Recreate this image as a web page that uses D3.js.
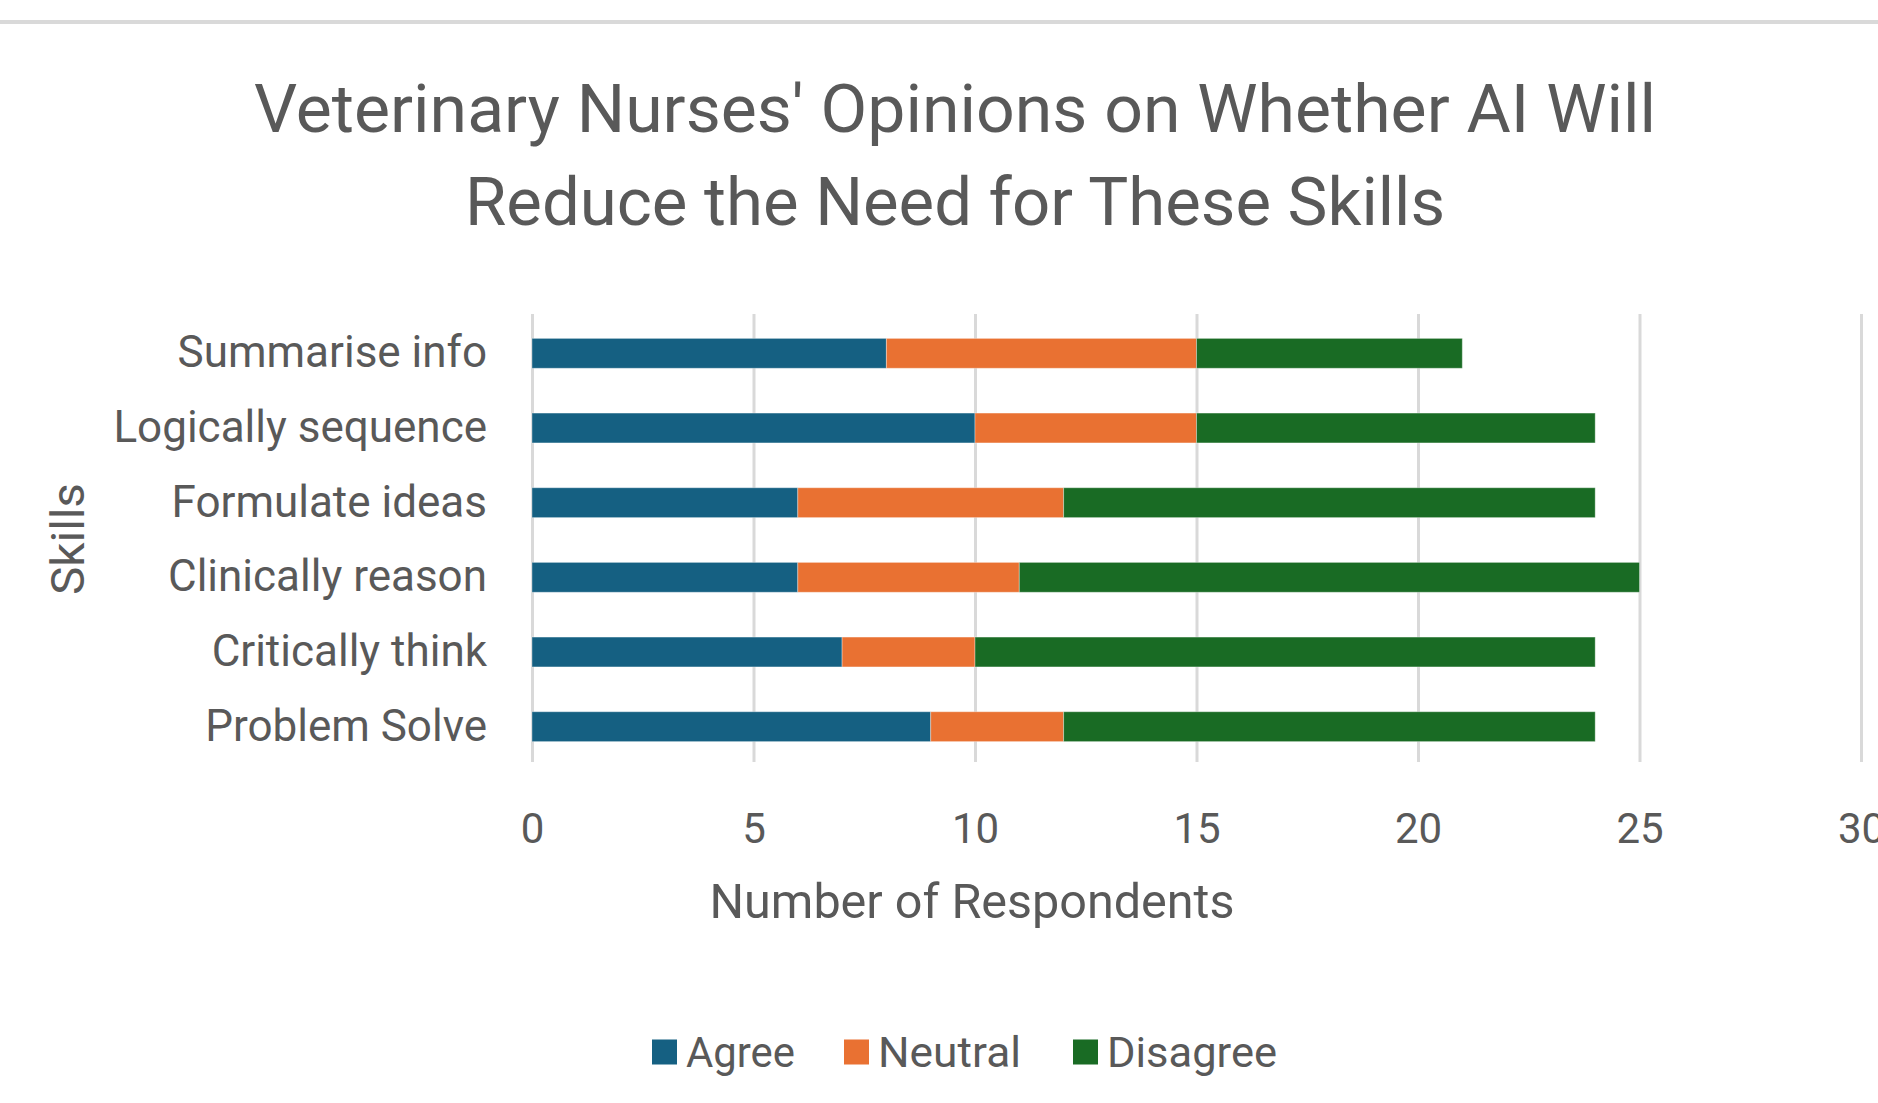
<!DOCTYPE html>
<html>
<head>
<meta charset="utf-8">
<script src="https://cdn.jsdelivr.net/npm/d3@7"></script>
<style>
  html, body { margin: 0; padding: 0; background: #ffffff; }
  svg { display: block; font-family: Roboto, "Open Sans", sans-serif; }
</style>
</head>
<body>
<svg id="chart" width="1878" height="1103"></svg>
<script>
// ---- data ----
const categories = ["Summarise info", "Logically sequence", "Formulate ideas", "Clinically reason", "Critically think", "Problem Solve"];
const seriesNames = ["Agree", "Neutral", "Disagree"];
const agree    = [8, 10, 6, 6, 7, 9];
const neutral  = [7, 5, 6, 5, 3, 3];
const disagree = [6, 9, 12, 14, 14, 12];
const xTicks = [0, 5, 10, 15, 20, 25, 30];
const titleLines = ["Veterinary Nurses' Opinions on Whether AI Will", "Reduce the Need for These Skills"];
const xAxisTitle = "Number of Respondents";
const yAxisTitle = "Skills";

// ---- styles ----
const colors = { Agree: "#156082", Neutral: "#E97132", Disagree: "#196B24" };
const textColor = "#595959";
const gridColor = "#d9d9d9";

const rows = categories.map((c, i) => ({ skill: c, Agree: agree[i], Neutral: neutral[i], Disagree: disagree[i] }));

const svg = d3.select("#chart");

// top border
svg.append("rect").attr("x", 0).attr("y", 20).attr("width", 1878).attr("height", 4).attr("fill", gridColor);

// helper: fit text to a target width
function fit(sel, w) { sel.attr("textLength", w).attr("lengthAdjust", "spacingAndGlyphs"); return sel; }

// title
const titleSizes = [1402, 980];
const titleBase = [132, 225];
titleLines.forEach((t, i) => {
  fit(svg.append("text")
    .attr("x", 955).attr("y", titleBase[i])
    .attr("text-anchor", "middle")
    .attr("font-size", 66)
    .attr("fill", textColor)
    .text(t), titleSizes[i]);
});

// scales
const plotTop = 314, plotBottom = 762;
const x = d3.scaleLinear().domain([0, 30]).range([532, 1861]);
const y = d3.scaleBand().domain(categories).range([plotTop + 2, plotBottom + 2]).paddingInner(0.6).paddingOuter(0.3);

// gridlines + x tick labels
const xAxis = svg.append("g")
  .attr("transform", `translate(0,${plotBottom})`)
  .call(d3.axisBottom(x).tickValues(xTicks).tickSize(-(plotBottom - plotTop)).tickFormat(d3.format("d")));
xAxis.select(".domain").remove();
xAxis.selectAll(".tick line").attr("stroke", gridColor).attr("stroke-width", 3);
xAxis.selectAll(".tick text")
  .attr("y", 66).attr("dy", "0.35em")
  .attr("font-size", 42).attr("fill", textColor)
  .attr("font-family", "Roboto, sans-serif");

// stacked bars
const stacked = d3.stack().keys(seriesNames)(rows);
svg.append("g").selectAll("g")
  .data(stacked).join("g")
  .attr("fill", d => colors[d.key])
  .selectAll("rect")
  .data(d => d).join("rect")
  .attr("x", d => x(d[0]))
  .attr("y", d => y(d.data.skill))
  .attr("width", d => x(d[1]) - x(d[0]))
  .attr("height", y.bandwidth())
  .attr("stroke", "#ffffff").attr("stroke-opacity", 0.35).attr("stroke-width", 1);

// y axis labels
const yAxis = svg.append("g")
  .attr("transform", "translate(532,0)")
  .call(d3.axisLeft(y).tickSize(0).tickPadding(45));
yAxis.select(".domain").remove();
yAxis.selectAll(".tick text")
  .attr("font-size", 44).attr("fill", textColor)
  .attr("font-family", "Roboto, sans-serif");

// axis titles
fit(svg.append("text")
  .attr("x", 972).attr("y", 901).attr("dy", "0.35em")
  .attr("text-anchor", "middle")
  .attr("font-size", 48).attr("fill", textColor)
  .text(xAxisTitle), 525);

fit(svg.append("text")
  .attr("transform", "translate(68,539) rotate(-90)")
  .attr("dy", "0.35em")
  .attr("text-anchor", "middle")
  .attr("font-size", 46).attr("fill", textColor)
  .text(yAxisTitle), 112);

// legend
const legendX = [652, 844, 1073];
const legendTextW = [109, 143, 170];
const legend = svg.append("g").selectAll("g")
  .data(seriesNames).join("g")
  .attr("transform", (d, i) => `translate(${legendX[i]},1052)`);
legend.append("rect")
  .attr("x", 0).attr("y", -12.5).attr("width", 25).attr("height", 25)
  .attr("fill", d => colors[d]);
legend.each(function(d, i) {
  fit(d3.select(this).append("text")
    .attr("x", 34).attr("y", 0).attr("dy", "0.35em")
    .attr("font-size", 42).attr("fill", textColor)
    .text(d), legendTextW[i]);
});
</script>
</body>
</html>
